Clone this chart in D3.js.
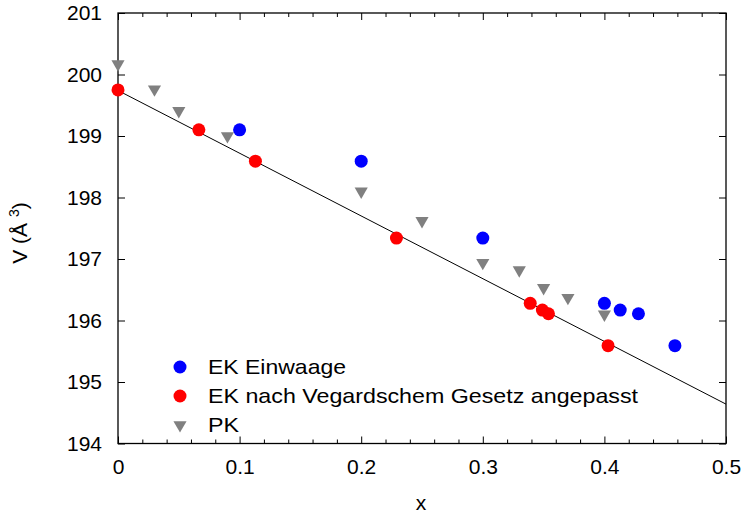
<!DOCTYPE html>
<html><head><meta charset="utf-8">
<script src="https://cdn.jsdelivr.net/npm/d3@7"></script>
<style>body{margin:0;background:#fff}text{font-family:"Liberation Sans",Arial,sans-serif}</style>
</head><body><svg id="c" width="747" height="516"></svg>
<script>
const ekX = [0.1, 0.2, 0.3, 0.4, 0.413, 0.428, 0.458];
const ekY = [199.10, 198.59, 197.34, 196.28, 196.17, 196.11, 195.59];
const vegX = [0.0, 0.0665, 0.113, 0.229, 0.339, 0.349, 0.354, 0.403];
const vegY = [199.75, 199.10, 198.59, 197.34, 196.28, 196.17, 196.11, 195.59];
const pkX = [0.0, 0.03, 0.05, 0.09, 0.2, 0.25, 0.3, 0.33, 0.35, 0.37, 0.4];
const pkY = [200.17, 199.76, 199.41, 199.00, 198.10, 197.62, 196.94, 196.82, 196.53, 196.37, 196.10];
const fitX = [0.0, 0.5];
const fitY = [199.74, 194.64];
const xTicks = [0, 0.1, 0.2, 0.3, 0.4, 0.5];
const yTicks = [194, 195, 196, 197, 198, 199, 200, 201];
const legendLabels = ["EK Einwaage", "EK nach Vegardschem Gesetz angepasst", "PK"];

const svg = d3.select("#c");
const L = 118, R = 726, T = 13, B = 443.5;
const x = d3.scaleLinear().domain([0, 0.5]).range([L, R]);
const y = d3.scaleLinear().domain([194, 201]).range([B, T]);
const FS = 21;

// axes
svg.append("g").attr("transform", `translate(0,${B})`)
  .call(d3.axisBottom(x).tickValues(xTicks).tickFormat(d3.format("")).tickSizeInner(-7).tickSizeOuter(0).tickPadding(16));
svg.append("g").attr("transform", `translate(0,${T})`)
  .call(d3.axisTop(x).tickValues(xTicks).tickFormat("").tickSizeInner(-7).tickSizeOuter(0));
const minor = d3.range(0, 0.5001, 0.02).filter(v => Math.abs(v*10 - Math.round(v*10)) > 1e-6);
svg.append("g").attr("transform", `translate(0,${B})`)
  .call(d3.axisBottom(x).tickValues(minor).tickFormat("").tickSizeInner(-4).tickSizeOuter(0));
svg.append("g").attr("transform", `translate(0,${T})`)
  .call(d3.axisTop(x).tickValues(minor).tickFormat("").tickSizeInner(-4).tickSizeOuter(0));
svg.append("g").attr("transform", `translate(${L},0)`)
  .call(d3.axisLeft(y).tickValues(yTicks).tickFormat(d3.format("d")).tickSizeInner(-7).tickSizeOuter(0).tickPadding(16));
svg.append("g").attr("transform", `translate(${R},0)`)
  .call(d3.axisRight(y).tickValues(yTicks).tickFormat("").tickSizeInner(-7).tickSizeOuter(0));
svg.selectAll(".domain").remove();
svg.selectAll(".tick line").attr("stroke", "#000").attr("stroke-width", 1);
svg.selectAll(".tick text").attr("font-size", FS).attr("fill", "#000").attr("font-family", "Liberation Sans, Arial, sans-serif");
svg.append("rect").attr("x", L).attr("y", T).attr("width", R - L).attr("height", B - T)
  .attr("fill", "none").attr("stroke", "#000").attr("stroke-width", 1.3);

// fit line
svg.append("path").datum(fitX.map((v, i) => [v, fitY[i]]))
  .attr("d", d3.line().x(d => x(d[0])).y(d => y(d[1])))
  .attr("stroke", "#000").attr("stroke-width", 1).attr("fill", "none");

const tri = d3.symbol().type(d3.symbolTriangle).size(75);
svg.append("g").selectAll("path").data(pkX.map((v, i) => [v, pkY[i]])).join("path")
  .attr("d", tri).attr("fill", "#808080")
  .attr("transform", d => `translate(${x(d[0])},${y(d[1])}) rotate(180)`);
svg.append("g").selectAll("circle").data(ekX.map((v, i) => [v, ekY[i]])).join("circle")
  .attr("cx", d => x(d[0])).attr("cy", d => y(d[1])).attr("r", 6.5).attr("fill", "#0000ff");
svg.append("g").selectAll("circle").data(vegX.map((v, i) => [v, vegY[i]])).join("circle")
  .attr("cx", d => x(d[0])).attr("cy", d => y(d[1])).attr("r", 6.5).attr("fill", "#ff0000");

// legend
const lg = svg.append("g");
const legY = [367, 396, 425];
const legW = [138, 430, 31];
const legColors = ["#0000ff", "#ff0000", "#808080"];
legendLabels.forEach((t, i) => {
  if (i < 2) lg.append("circle").attr("cx", 180).attr("cy", legY[i]).attr("r", 6.5).attr("fill", legColors[i]);
  else lg.append("path").attr("d", tri).attr("fill", legColors[i]).attr("transform", `translate(180,${legY[i]}) rotate(180)`);
  lg.append("text").attr("x", 208).attr("y", legY[i]).attr("dy", "0.35em").attr("font-size", 21)
    .attr("textLength", legW[i]).attr("lengthAdjust", "spacingAndGlyphs").text(t);
});

// axis labels
svg.append("text").attr("x", 421).attr("y", 510).attr("text-anchor", "middle").attr("font-size", FS).text("x");
const yl = svg.append("text").attr("transform", "translate(27,233) rotate(-90)").attr("text-anchor", "middle").attr("font-size", FS);
yl.append("tspan").text("V (Å ");
yl.append("tspan").attr("font-size", 14).attr("dy", -8).text("3");
yl.append("tspan").attr("dy", 8).text(")");
</script></body></html>
